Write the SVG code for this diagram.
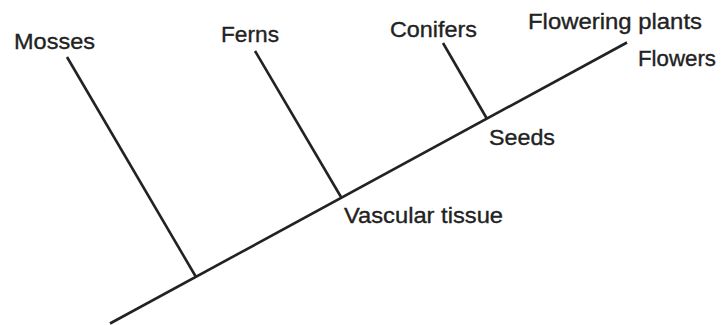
<svg xmlns="http://www.w3.org/2000/svg" width="721" height="325" viewBox="0 0 721 325">
<style>
.l{stroke:#222;stroke-width:2.6;stroke-linecap:butt;fill:none}
.t{font-family:"Liberation Sans",Arial,sans-serif;font-size:22px;fill:#222;stroke:#222;stroke-width:0.35}
</style>
<rect width="721" height="325" fill="#fff"/>
<g id="connectors">
<line class="l" x1="110" y1="323.5" x2="627" y2="42.5"/>
<line class="l" x1="67" y1="57" x2="196" y2="277"/>
<line class="l" x1="255" y1="51" x2="341" y2="197"/>
<line class="l" x1="443" y1="43" x2="486.5" y2="118"/>
</g>
<g id="mosses"><text class="t" x="14" y="49" textLength="81" lengthAdjust="spacingAndGlyphs">Mosses</text></g>
<g id="ferns"><text class="t" x="221" y="41.5" textLength="58" lengthAdjust="spacingAndGlyphs">Ferns</text></g>
<g id="conifers"><text class="t" x="390" y="36.5" textLength="87" lengthAdjust="spacingAndGlyphs">Conifers</text></g>
<g id="flowering-plants"><text class="t" x="528" y="28.5" textLength="174" lengthAdjust="spacingAndGlyphs">Flowering plants</text></g>
<g id="flowers"><text class="t" x="638" y="66" textLength="78" lengthAdjust="spacingAndGlyphs">Flowers</text></g>
<g id="seeds"><text class="t" x="489" y="145" textLength="66" lengthAdjust="spacingAndGlyphs">Seeds</text></g>
<g id="vascular-tissue"><text class="t" x="344" y="223" textLength="159" lengthAdjust="spacingAndGlyphs">Vascular tissue</text></g>
</svg>
